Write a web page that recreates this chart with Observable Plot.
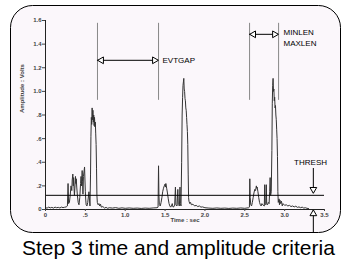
<!DOCTYPE html>
<html><head><meta charset="utf-8">
<script src="https://cdn.jsdelivr.net/npm/d3@7"></script>
<script src="https://cdn.jsdelivr.net/npm/@observablehq/plot@0.6"></script>
<style>
body{margin:0;background:#fff;}
#wrap{position:relative;width:342px;height:268px;overflow:hidden;}
#cap{font-family:"Liberation Sans",Arial,sans-serif;font-size:21px;line-height:21px;color:#000;position:absolute;left:22px;top:237px;white-space:nowrap;}
</style></head><body><div id="wrap"><div id="chart"></div><div id="cap">Step 3 time and amplitude criteria</div></div>
<script>
const time = [0.00,0.02,0.04,0.06,0.08,0.10,0.12,0.14,0.16,0.18,0.20,0.22,0.24,0.26,0.275,0.283,0.29,0.30,0.31,0.32,0.33,0.335,0.343,0.348,0.353,0.358,0.363,0.37,0.376,0.381,0.386,0.392,0.40,0.41,0.42,0.43,0.44,0.446,0.452,0.46,0.465,0.47,0.476,0.49,0.495,0.50,0.505,0.51,0.52,0.53,0.545,0.552,0.558,0.565,0.57,0.575,0.58,0.585,0.59,0.595,0.60,0.605,0.61,0.615,0.62,0.625,0.63,0.635,0.64,0.645,0.65,0.66,0.67,0.68,0.69,0.70,0.72,0.74,0.76,0.78,0.80,0.84,0.88,0.92,0.96,1.00,1.05,1.10,1.15,1.20,1.25,1.30,1.35,1.40,1.412,1.418,1.423,1.428,1.44,1.45,1.46,1.47,1.48,1.49,1.50,1.505,1.51,1.52,1.53,1.54,1.55,1.56,1.57,1.58,1.59,1.60,1.62,1.63,1.636,1.65,1.66,1.666,1.68,1.687,1.692,1.70,1.708,1.714,1.72,1.725,1.73,1.735,1.74,1.745,1.75,1.755,1.76,1.765,1.77,1.775,1.78,1.785,1.79,1.795,1.80,1.81,1.82,1.83,1.85,1.87,1.89,1.91,1.93,1.95,1.97,2.00,2.05,2.10,2.15,2.20,2.25,2.30,2.35,2.40,2.45,2.50,2.55,2.558,2.563,2.568,2.575,2.585,2.595,2.605,2.615,2.625,2.635,2.645,2.65,2.655,2.665,2.675,2.685,2.695,2.705,2.715,2.725,2.745,2.75,2.755,2.765,2.77,2.775,2.785,2.795,2.805,2.812,2.818,2.824,2.832,2.84,2.845,2.85,2.855,2.86,2.865,2.87,2.875,2.88,2.885,2.89,2.895,2.90,2.905,2.91,2.915,2.92,2.93,2.935,2.94,2.95,2.96,2.97,2.98,3.00,3.02,3.04,3.06,3.08,3.10,3.12,3.14,3.16,3.18,3.20,3.22,3.24,3.26,3.28,3.30];
const volts = [.015,.012,.020,.014,.018,.012,.020,.015,.018,.013,.020,.016,.019,.022,.030,.220,.050,.060,.120,.200,.160,.250,.300,.200,.270,.180,.120,.200,.280,.220,.260,.190,.120,.060,.040,.100,.220,.280,.200,.330,.240,.130,.280,.360,.250,.150,.080,.040,.030,.060,.150,.080,.030,.300,.620,.780,.720,.860,.760,.840,.740,.800,.710,.780,.700,.740,.640,.550,.350,.120,.060,.040,.050,.030,.045,.020,.025,.012,.018,.010,.015,.012,.016,.010,.014,.010,.013,.010,.012,.009,.012,.010,.013,.015,.020,.370,.120,.040,.030,.060,.100,.150,.180,.200,.215,.190,.220,.180,.140,.090,.050,.030,.020,.030,.050,.020,.030,.190,.040,.030,.170,.040,.030,.190,.050,.030,.400,.800,.950,1.05,1.08,1.11,1.02,1.00,.940,.920,.860,.840,.780,.720,.660,.550,.300,.100,.070,.050,.060,.040,.045,.030,.035,.025,.030,.020,.022,.015,.012,.010,.013,.010,.012,.009,.012,.010,.013,.010,.015,.020,.260,.100,.040,.030,.060,.100,.140,.170,.160,.200,.180,.190,.150,.100,.060,.040,.030,.050,.040,.030,.210,.050,.040,.210,.050,.040,.060,.050,.150,.270,.120,.150,.500,.900,1.05,1.11,1.00,1.02,.920,.950,.860,.880,.800,.760,.680,.600,.450,.150,.060,.090,.040,.080,.050,.070,.030,.050,.035,.040,.030,.035,.025,.030,.022,.028,.018,.022,.015,.020,.012,.015,.010,.008];

const yTicks = [0, 0.2, 0.4, 0.6, 0.8, 1.0, 1.2, 1.4, 1.6];
const yTickLabels = ["0", ".2", ".4", ".6", ".8", "1.0", "1.2", "1.4", "1.6"];
const xTicks = [0, 0.5, 1.0, 1.5, 2.0, 2.5, 3.0, 3.5];
const xTickLabels = ["0", ".5", "1.0", "1.5", "2.0", "2.5", "3.0", "3.5"];

const markerTimes = [0.652, 1.418, 2.56, 2.924];
const markerBottom = [0.924];
const markerTop = [1.576];
const evtgapTimes = [0.652, 1.418];
const evtgapLevel = [1.263];
const lenTimes = [2.56, 2.924];
const lenLevel = [1.483];
const threshold = [0.12];
const threshArrowTime = [3.36];
const threshDownFrom = [0.347];
const threshDownTip = [0.136];
const threshUpTip = [-0.002];
const threshUpFrom = [-0.195];

const annoText = ["EVTGAP", "MINLEN", "MAXLEN"];
const annoTime = [1.468, 2.986, 2.986];
const annoLevel = [1.263, 1.50, 1.407];
const threshLabel = ["THRESH"];
const threshLabelTime = [3.325];
const threshLabelLevel = [0.398];

const signal = time.map((t, i) => ({t, v: volts[i]}));
const annos = annoText.map((text, i) => ({text, t: annoTime[i], v: annoLevel[i]}));
const yMap = new Map(yTicks.map((d, i) => [d, yTickLabels[i]]));
const xMap = new Map(xTicks.map((d, i) => [d, xTickLabels[i]]));
const font = "Liberation Sans, Arial, sans-serif";

const leftHeads = [{t: evtgapTimes[0], v: evtgapLevel[0]}, {t: lenTimes[0], v: lenLevel[0]}];
const rightHeads = [{t: evtgapTimes[1], v: evtgapLevel[0]}, {t: lenTimes[1], v: lenLevel[0]}];
const downHeads = [{t: threshArrowTime[0], v: threshDownTip[0]}];
const upHeads = [{t: threshArrowTime[0], v: threshUpTip[0]}];
const headStyle = {x: "t", y: "v", symbol: "triangle", r: 2.5, fill: "#fff", stroke: "#000", strokeWidth: 1};

const chart = Plot.plot({
  width: 342,
  height: 238,
  marginLeft: 45,
  marginRight: 18,
  marginTop: 20,
  marginBottom: 29,
  style: {fontFamily: font, background: "transparent", overflow: "visible"},
  x: {domain: [0, 3.5], axis: null},
  y: {domain: [0, 1.6], axis: null},
  marks: [
    Plot.frame({fill: "#fbf7fb", stroke: "#000", strokeWidth: 1, rx: 22,
      insetLeft: -35, insetRight: -16, insetTop: -15, insetBottom: -23}),
    Plot.ruleX(markerTimes, {y1: markerBottom[0], y2: markerTop[0], stroke: "#888", strokeWidth: 1}),
    Plot.ruleY(evtgapLevel, {x1: evtgapTimes[0], x2: evtgapTimes[1], stroke: "#000", strokeWidth: 1}),
    Plot.ruleY(lenLevel, {x1: lenTimes[0], x2: lenTimes[1], stroke: "#000", strokeWidth: 1}),
    Plot.ruleX(threshArrowTime, {y1: threshDownFrom[0], y2: threshDownTip[0], stroke: "#000", strokeWidth: 1}),
    Plot.ruleX(threshArrowTime, {y1: threshUpFrom[0], y2: threshUpTip[0], stroke: "#000", strokeWidth: 1}),
    Plot.line(signal, {x: "t", y: "v", stroke: "#333", strokeWidth: 1}),
    Plot.ruleY(threshold, {x1: 0, x2: 3.5, stroke: "#000", strokeWidth: 1}),
    Plot.ruleY([0], {x1: 0, x2: 3.5, stroke: "#222", strokeWidth: 1}),
    Plot.ruleX([0], {y1: 0, y2: 1.6, stroke: "#222", strokeWidth: 1}),
    Plot.axisY(yTicks, {tickFormat: d => yMap.get(d), tickSize: 3, tickPadding: 1, fontSize: 6, fontWeight: "bold", fill: "#444", stroke: "#444", label: null}),
    Plot.axisX(xTicks, {tickFormat: d => xMap.get(d), tickSize: 2, tickPadding: 1, fontSize: 6, fontWeight: "bold", fill: "#444", stroke: "#444", label: null}),
    Plot.text(["Amplitude : Volts"], {frameAnchor: "left", dx: -23, dy: -2, rotate: -90, fontSize: 6, fontWeight: "bold", fill: "#444"}),
    Plot.text(["Time : sec"], {frameAnchor: "bottom", dy: 12, fontSize: 6, fontWeight: "bold", fill: "#444"}),
    Plot.dot(leftHeads, {...headStyle, rotate: -90, dx: 4}),
    Plot.dot(rightHeads, {...headStyle, rotate: 90, dx: -4}),
    Plot.dot(downHeads, {...headStyle, rotate: 180, dy: -4}),
    Plot.dot(upHeads, {...headStyle, rotate: 0, dy: 4}),
    Plot.text(annos, {x: "t", y: "v", text: "text", textAnchor: "start", fontSize: 8, fill: "#000"}),
    Plot.text(threshLabel, {x: () => threshLabelTime[0], y: () => threshLabelLevel[0], text: d => d, textAnchor: "middle", fontSize: 8, fill: "#000"})
  ]
});
document.getElementById("chart").appendChild(chart);
</script></body></html>
